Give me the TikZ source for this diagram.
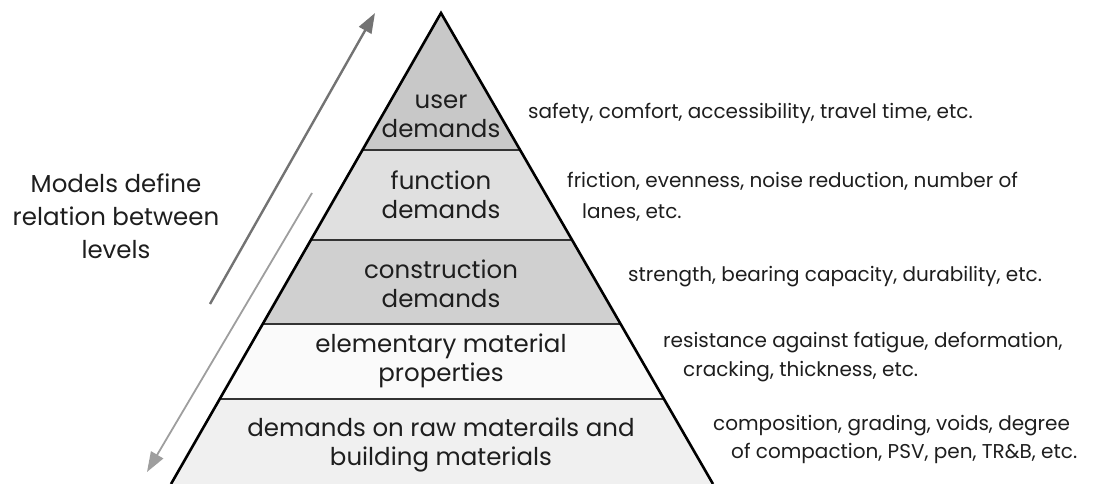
\documentclass[tikz,border=0pt]{standalone}
\usepackage{fontspec}
\setmainfont{Poppins}
\usetikzlibrary{arrows.meta}
\definecolor{userfill}{HTML}{C8C8C8}
\definecolor{funcfill}{HTML}{E0E0E0}
\definecolor{consfill}{HTML}{D0D0D0}
\definecolor{elemfill}{HTML}{FAFAFA}
\definecolor{rawfill}{HTML}{F0F0F0}
\definecolor{textgray}{HTML}{1E1E1E}
\tikzset{
  tiertext/.style={align=center, inner sep=0pt, text=textgray,
    font=\fontsize{24.5}{29}\selectfont},
  sidetext/.style={align=center, inner sep=0pt, text=textgray,
    font=\fontsize{24.5}{33}\selectfont},
  notetext/.style={anchor=west, inner sep=0pt, text=textgray,
    font=\fontsize{20}{24}\selectfont},
  divider/.style={line width=1.6pt, draw=black!80},
  outline/.style={line width=2.6pt, line join=miter},
}

\begin{document}
\begin{tikzpicture}[x=1pt, y=-1pt]
\useasboundingbox (0,0) rectangle (1117,484);
% Pyramid corners
    \coordinate (apex) at (441,13);
    \coordinate (baseL) at (171,484);
    \coordinate (baseR) at (713,484);
% Bands
    \begin{scope}
    \clip (apex) -- (baseL) -- (baseR) -- cycle;
    \fill[userfill] (0,0) rectangle (1117,150);
    \fill[funcfill] (0,150) rectangle (1117,240);
    \fill[consfill] (0,240) rectangle (1117,324);
    \fill[elemfill] (0,324) rectangle (1117,399);
    \fill[rawfill] (0,399) rectangle (1117,490);
    \draw[divider] (0,150) -- (1117,150);
    \draw[divider] (0,240) -- (1117,240);
    \draw[divider] (0,324) -- (1117,324);
    \draw[divider] (0,399) -- (1117,399);
    \end{scope}
    \draw[outline] (baseL) -- (apex) -- (baseR);
% Arrows
    \draw[line width=2.4pt, draw=black!55, -{Triangle[length=20pt, width=14pt]}]
        (210,304) -- (375,13);
    \draw[line width=1.8pt, draw=black!38, -{Triangle[length=20pt, width=14pt]}]
        (312,193) -- (147,472);
% Level names
    \node[tiertext] (user) at (441,116) {user\\demands};
    \node[tiertext] (func) at (441,195) {function\\demands};
    \node[tiertext] (cons) at (441,284) {construction\\demands};
    \node[tiertext] (elem) at (441,361) {elementary material\\properties};
    \node[tiertext] (raw) at (441,445) {demands on raw materails and\\building materials};
    \node[sidetext] (models) at (116,216) {Models define\\relation between\\levels};
% Requirements
    \node[notetext] (userA) at (528,113) {safety, comfort, accessibility, travel time, etc.};
    \node[notetext] (funcA) at (567,181) {friction, evenness, noise reduction, number of};
    \node[notetext] (funcB) at (582,213) {lanes, etc.};
    \node[notetext] (consA) at (628,277) {strength, bearing capacity, durability, etc.};
    \node[notetext] (elemA) at (663,343) {resistance against fatigue, deformation,};
    \node[notetext] (elemB) at (683,372) {cracking, thickness, etc.};
    \node[notetext] (rawA) at (713,426) {composition, grading, voids, degree};
    \node[notetext] (rawB) at (731,453) {of compaction, PSV, pen, TR\&B, etc.};
\end{tikzpicture}
\end{document}
